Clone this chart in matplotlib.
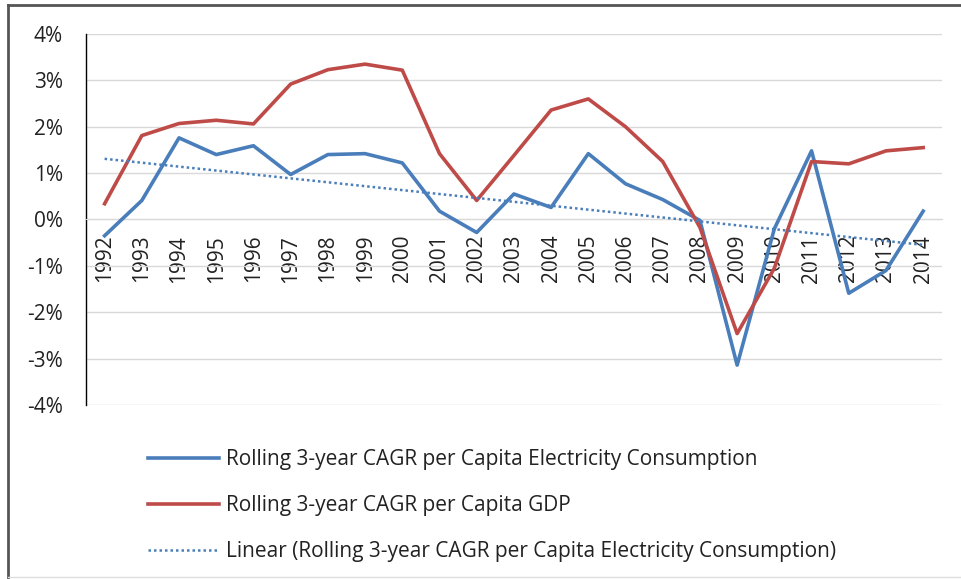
import numpy as np
import matplotlib
matplotlib.use('Agg')
import matplotlib.pyplot as plt
from matplotlib.lines import Line2D

# Datos (en %)
years = [str(y) for y in range(1992, 2015)]
elec = [-0.35, 0.41, 1.76, 1.40, 1.59, 0.97, 1.40, 1.42, 1.22, 0.18, -0.28,
        0.55, 0.26, 1.42, 0.77, 0.43, -0.02, -3.14, -0.20, 1.48, -1.59, -1.10, 0.18]
gdp = [0.34, 1.81, 2.07, 2.14, 2.06, 2.92, 3.23, 3.35, 3.22, 1.42, 0.41,
       1.38, 2.36, 2.60, 2.00, 1.25, -0.17, -2.46, -1.05, 1.25, 1.20, 1.48, 1.55]
yticks = [-4, -3, -2, -1, 0, 1, 2, 3, 4]

label_elec = 'Rolling 3-year CAGR per Capita Electricity Consumption'
label_gdp = 'Rolling 3-year CAGR per Capita GDP'
label_trend = 'Linear (Rolling 3-year CAGR per Capita Electricity Consumption)'

plt.rcParams['font.family'] = ['Open Sans', 'DejaVu Sans']

blue = '#4A7EBB'
red = '#BE4B48'

fig = plt.figure(figsize=(9.61, 5.79), dpi=100)
ax = fig.add_axes([0.0895, 0.3005, 0.8905, 0.6408])

x = np.arange(len(years))

# Linea de tendencia lineal (como en Excel)
coef = np.polyfit(x, elec, 1)
trend = np.polyval(coef, x)

ax.plot(x, elec, color=blue, lw=2.6, label=label_elec, zorder=3)
ax.plot(x, gdp, color=red, lw=2.6, label=label_gdp, zorder=3)
ax.plot(x, trend, color=blue, lw=1.8, ls=(0, (1, 1.2)), label=label_trend, zorder=3)

# eje x cruzando en 0 (antes de poner las etiquetas)
ax.spines['bottom'].set_position(('data', 0))
ax.spines['bottom'].set_color('#D9D9D9')
ax.spines['top'].set_visible(False)
ax.spines['right'].set_visible(False)
ax.spines['left'].set_color('#000000')
ax.spines['left'].set_linewidth(1.0)

ax.set_xlim(-0.5, len(years) - 0.5)
ax.set_ylim(-4, 4)
ax.set_yticks(yticks)
ax.set_yticklabels([f'{v}%' for v in yticks])
ax.tick_params(axis='y', length=0, pad=16.5, labelsize=15, labelcolor='#222222')

ax.set_xticks(x)
ax.set_xticklabels(years)
ax.tick_params(axis='x', length=0, pad=11, labelsize=15, labelcolor='#222222',
               labelrotation=90)

ax.grid(axis='y', color='#D9D9D9', lw=1.0)
ax.set_axisbelow(True)

leg = fig.legend(loc='upper left', bbox_to_anchor=(148 / 961, 1 - 449 / 579),
                 frameon=False, fontsize=15, handlelength=3.4, handletextpad=0.33,
                 labelspacing=1.2, borderpad=0, borderaxespad=0)
for t in leg.get_texts():
    t.set_color('#222222')

# Marco exterior
fig.add_artist(Line2D([8 / 961, 1], [1 - 5 / 579, 1 - 5 / 579], color='#555555', lw=2,
                      transform=fig.transFigure))
fig.add_artist(Line2D([8 / 961, 8 / 961], [0, 1 - 5 / 579], color='#555555', lw=2,
                      transform=fig.transFigure))
fig.add_artist(Line2D([8 / 961, 1], [2 / 579, 2 / 579], color='#DDDDDD', lw=1,
                      transform=fig.transFigure))

fig.savefig('out.png', dpi=100)
